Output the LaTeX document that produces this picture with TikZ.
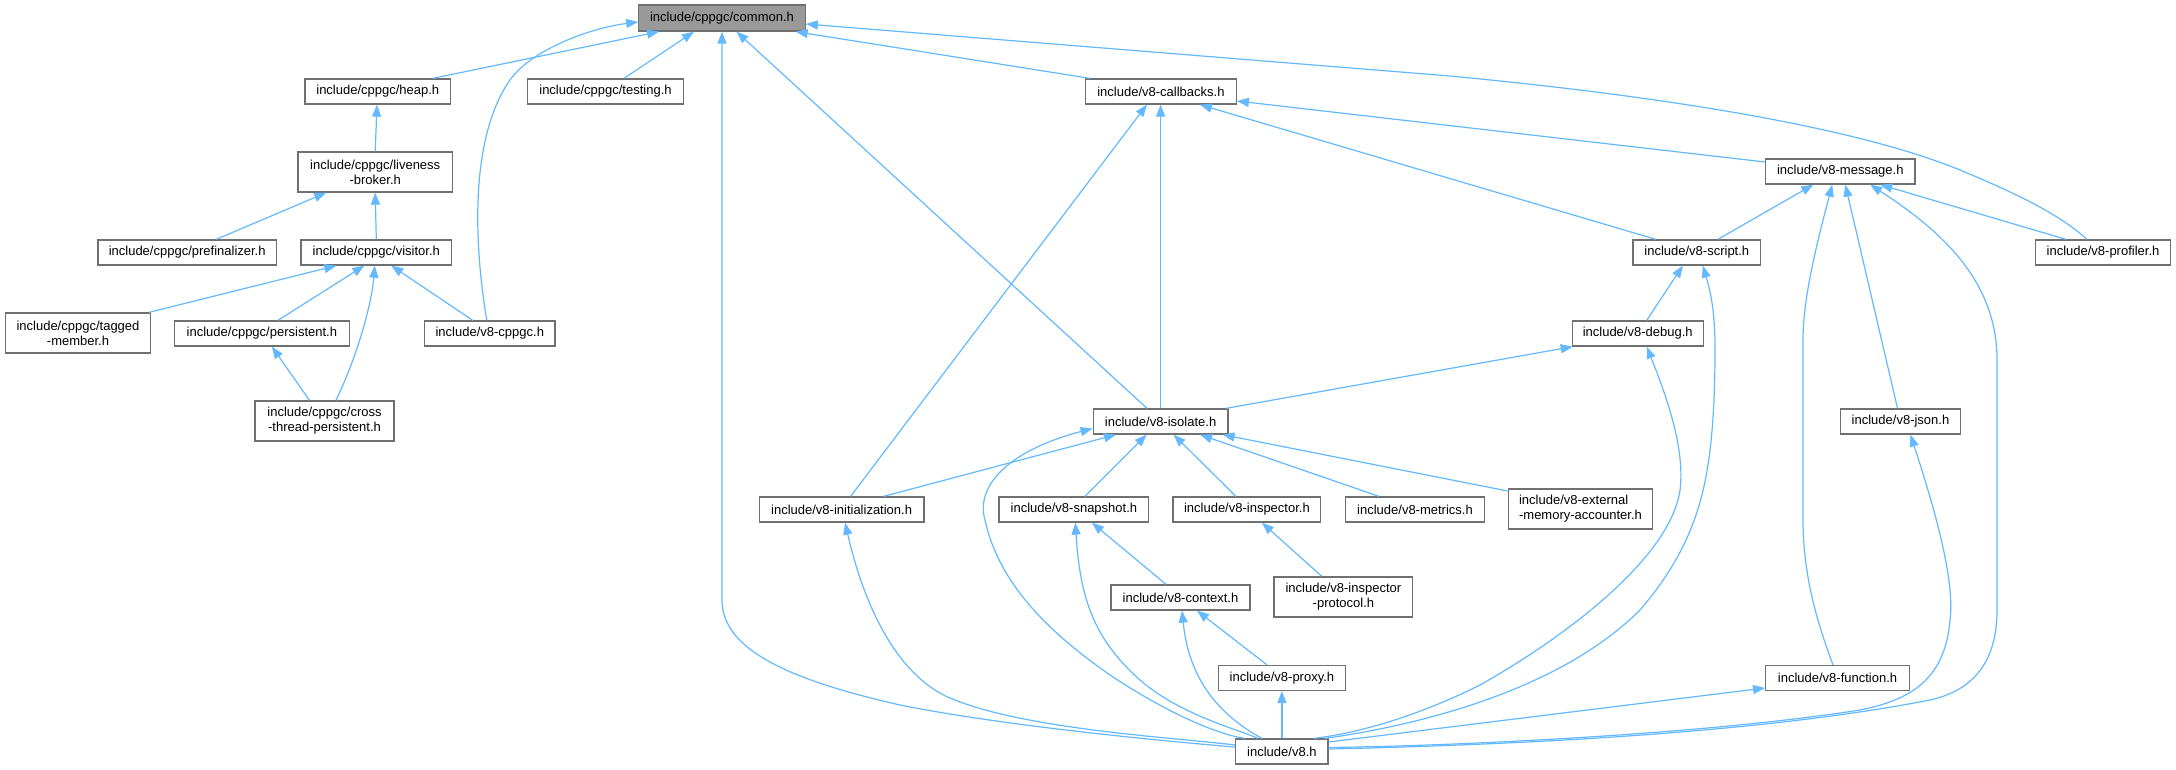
\documentclass[tikz,border=0pt]{standalone}
\usepackage{fontspec}
\setmainfont{Liberation Sans}
\usetikzlibrary{arrows.meta}
\definecolor{edgec}{HTML}{63B8FF}
\definecolor{boxc}{HTML}{707070}
\definecolor{rootc}{HTML}{999999}
\begin{document}
\begin{tikzpicture}[x=1pt,y=-1pt,
 box/.style={draw=boxc, line width=1.3pt, fill=white, inner sep=0pt, minimum height=25pt, font=\fontsize{13}{15}\selectfont, align=center},
 tall/.style={minimum height=40pt},
 edge/.style={draw=edgec, line width=1.2pt, -{Triangle[length=12pt,width=9pt]}}]
\useasboundingbox (0,0) rectangle (2176,769);

% nodes
\node[box, fill=rootc, minimum width=166.5pt, minimum height=26pt] (common) at (722,18) {include/cppgc/common.h};
\node[box, minimum width=145.6pt] (heap) at (377.8,91.5) {include/cppgc/heap.h};
\node[box, minimum width=156pt] (testing) at (605.5,91.5) {include/cppgc/testing.h};
\node[box, tall, minimum width=154.5pt] (liveness) at (375.2,172) {include/cppgc/liveness\\-broker.h};
\node[box, minimum width=178.7pt] (prefin) at (187.2,252.5) {include/cppgc/prefinalizer.h};
\node[box, minimum width=150.6pt] (visitor) at (376.3,252.5) {include/cppgc/visitor.h};
\node[box, tall, minimum width=144.8pt] (tagged) at (78,333) {include/cppgc/tagged\\-member.h};
\node[box, minimum width=174.6pt] (persist) at (261.9,333.5) {include/cppgc/persistent.h};
\node[box, minimum width=130.4pt] (cppgc) at (489.8,333.5) {include/v8-cppgc.h};
\node[box, tall, minimum width=138.9pt] (cross) at (324.5,421) {include/cppgc/cross\\-thread-persistent.h};
\node[box, minimum width=150.7pt] (callbacks) at (1160.9,91.5) {include/v8-callbacks.h};
\node[box, minimum width=134.8pt] (isolate) at (1160.6,421.5) {include/v8-isolate.h};
\node[box, minimum width=149.1pt] (message) at (1840.3,171.5) {include/v8-message.h};
\node[box, minimum width=127.7pt] (script) at (1696.8,252.5) {include/v8-script.h};
\node[box, minimum width=134.8pt] (profiler) at (2103,252.5) {include/v8-profiler.h};
\node[box, minimum width=131pt] (debug) at (1637.7,333.5) {include/v8-debug.h};
\node[box, minimum width=120.3pt] (json) at (1900.5,421.5) {include/v8-json.h};
\node[box, minimum width=164.5pt] (init) at (841.6,509.5) {include/v8-initialization.h};
\node[box, minimum width=149.7pt] (snapshot) at (1073.9,509.5) {include/v8-snapshot.h};
\node[box, minimum width=147.8pt] (inspector) at (1246.9,509.5) {include/v8-inspector.h};
\node[box, minimum width=138.6pt] (metrics) at (1415,509.5) {include/v8-metrics.h};
\node[box, tall, minimum width=144.5pt, align=left] (external) at (1580.5,509) {include/v8-external\\-memory-accounter.h};
\node[box, minimum width=139.1pt] (context) at (1180.5,597.5) {include/v8-context.h};
\node[box, tall, minimum width=138.7pt] (protocol) at (1343.4,597) {include/v8-inspector\\-protocol.h};
\node[box, minimum width=126.7pt] (proxy) at (1281.9,678) {include/v8-proxy.h};
\node[box, minimum width=92.3pt] (v8) at (1281.9,751.5) {include/v8.h};
\node[box, minimum width=143.6pt] (function) at (1837.5,678) {include/v8-function.h};

% edges into common.h
\draw[edge] ([xshift=55pt]heap.north) -- ([xshift=-63pt]common.south);
\draw[edge] ([xshift=18.5pt]testing.north) -- ([xshift=-28pt]common.south);
\draw[edge] ([xshift=-3pt]cppgc.north) .. controls (475,250) and (468,140) .. (510,80)
  .. controls (531,50) and (590,28) .. ([yshift=-4pt]common.west);
\draw[edge] ([yshift=4.5pt]v8.west) .. controls (1150,740) and (1000,725) .. (900,705)
  .. controls (790,680) and (722,650) .. (722,600) -- (common.south);
\draw[edge] ([xshift=-13.6pt]isolate.north) -- ([xshift=14.5pt]common.south);
\draw[edge] ([xshift=-71pt]callbacks.north) -- ([xshift=73.7pt]common.south);
\draw[edge] ([xshift=-16pt]profiler.north) .. controls (2060,215) and (2020,195) .. (1960,170)
  .. controls (1850,125) and (1650,95) .. (1450,76) -- ([yshift=-6pt]common.east);

% edges into callbacks
\draw[edge] ([xshift=9pt]init.north) -- ([xshift=-14pt]callbacks.south);
\draw[edge] (isolate.north) -- (isolate.north |- callbacks.south);
\draw[edge] ([yshift=9.5pt]message.west) -- ([yshift=-9.5pt]callbacks.east);
\draw[edge] ([xshift=-41pt]script.north) -- ([xshift=39pt]callbacks.south);

% edges into message
\draw[edge] ([xshift=21pt]script.north) -- ([xshift=-27pt]message.south);
\draw[edge] ([xshift=-37pt]profiler.north) -- ([xshift=40pt]message.south);
\draw[edge] ([xshift=-4.5pt]function.north) .. controls (1820,630) and (1803,580) .. (1803,520)
  -- (1803,340) .. controls (1803,300) and (1815,250) .. ([xshift=-8pt]message.south);
\draw[edge] ([xshift=-3pt]json.north) -- ([xshift=5pt]message.south);
\draw[edge] ([yshift=2.5pt]v8.east) .. controls (1500,745) and (1750,735) .. (1930,700)
  .. controls (1975,690) and (1997,660) .. (1997,610) -- (1997,360)
  .. controls (1997,280) and (1940,230) .. ([xshift=30pt]message.south);

% into json / function
\draw[edge] ([yshift=4pt]v8.east) .. controls (1450,746) and (1700,735) .. (1860,710)
  .. controls (1910,700) and (1945,680) .. (1950,620)
  .. controls (1955,580) and (1935,510) .. ([xshift=10pt]json.south);
\draw[edge] ([yshift=9.5pt]v8.east) -- ([yshift=-10pt]function.west);

% into script
\draw[edge] ([xshift=9pt]debug.north) -- ([xshift=-14pt]script.south);
\draw[edge] ([xshift=43pt]v8.north) .. controls (1420,725) and (1560,690) .. (1640,610)
  .. controls (1700,540) and (1710,480) .. (1714,400)
  .. controls (1716,340) and (1716,310) .. ([xshift=6pt]script.south);

% into debug
\draw[edge] ([xshift=32pt]v8.north) .. controls (1360,733) and (1420,715) .. (1480,685)
  .. controls (1560,640) and (1670,560) .. (1680,490)
  .. controls (1685,450) and (1668,400) .. ([xshift=9pt]debug.south);
\draw[edge] ([xshift=65.5pt]isolate.north) -- ([xshift=-65pt]debug.south);

% into isolate
\draw[edge] ([xshift=42pt]init.north) -- ([xshift=-44.6pt]isolate.south);
\draw[edge] ([xshift=11pt]snapshot.north) -- ([xshift=-14pt]isolate.south);
\draw[edge] ([xshift=-11pt]inspector.north) -- ([xshift=13pt]isolate.south);
\draw[edge] ([xshift=-36pt]metrics.north) -- ([xshift=39.5pt]isolate.south);
\draw[edge] ([yshift=18pt]external.west) -- ([xshift=62pt]isolate.south);
\draw[edge] ([xshift=-37pt]v8.north) .. controls (1220,735) and (1170,715) .. (1110,675)
  .. controls (1060,640) and (1000,590) .. (985,520)
  .. controls (975,485) and (1010,450) .. ([yshift=-7pt]isolate.west);

% into initialization, snapshot, inspector, context, proxy
\draw[edge] ([yshift=6.5pt]v8.west) .. controls (1180,738) and (1030,730) .. (955,700)
  .. controls (900,680) and (865,610) .. ([xshift=3.5pt]init.south);
\draw[edge] ([xshift=-14.5pt]context.north) -- ([xshift=18pt]snapshot.south);
\draw[edge] ([xshift=-24pt]v8.north) .. controls (1240,730) and (1180,715) .. (1140,680)
  .. controls (1095,640) and (1080,600) .. ([xshift=1.5pt]snapshot.south);
\draw[edge] ([xshift=-21.6pt]protocol.north) -- ([xshift=15pt]inspector.south);
\draw[edge] ([xshift=-15pt]proxy.north) -- ([xshift=16.5pt]context.south);
\draw[edge] ([xshift=-20pt]v8.north) .. controls (1210,710) and (1188,670) .. ([xshift=1.5pt]context.south);
\draw[edge] (v8.north) -- (proxy.south);

% cppgc part
\draw[edge] (liveness.north) -- ([xshift=-0.8pt]heap.south);
\draw[edge] ([xshift=29pt]prefin.north) -- ([xshift=-49pt]liveness.south);
\draw[edge] (visitor.north) -- ([xshift=0pt]liveness.south);
\draw[edge] ([xshift=71pt]tagged.north) -- ([xshift=-40pt]visitor.south);
\draw[edge] ([xshift=16pt]persist.north) -- ([xshift=-12pt]visitor.south);
\draw[edge] ([xshift=11.5pt]cross.north) .. controls (360,350) and (372,300) .. ([xshift=-1.5pt]visitor.south);
\draw[edge] ([xshift=-17pt]cppgc.north) -- ([xshift=15pt]visitor.south);
\draw[edge] ([xshift=-15pt]cross.north) -- ([xshift=10pt]persist.south);
\end{tikzpicture}
\end{document}
